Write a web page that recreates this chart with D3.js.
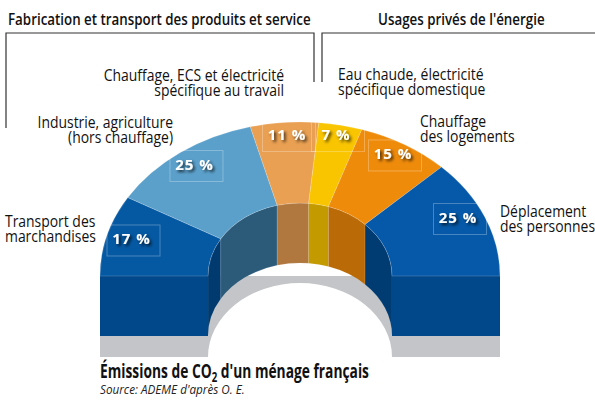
<!DOCTYPE html>
<html lang="fr">
<head>
<meta charset="UTF-8">
<title>Émissions de CO2 d'un ménage français</title>
<style>
  body { margin: 0; background: #fff; }
  svg { display: block; font-family: "Open Sans", "DejaVu Sans", sans-serif; }
  .lbl { font-size: 16px; fill: #111; }
  .grp { font-size: 16px; font-weight: 600; fill: #111; }
  .pct { font-size: 15px; font-weight: 700; fill: #fff; letter-spacing: 1px; }
  .bracket { fill: none; stroke: #333; stroke-width: 1.2; }
</style>
<script src="https://cdn.jsdelivr.net/npm/d3@7"></script>
</head>
<body>
<div id="chart"></div>
<script>
// ---- data ----
var categories = ["Transport des marchandises", "Industrie, agriculture (hors chauffage)",
  "Chauffage, ECS et électricité spécifique au travail", "Eau chaude, électricité spécifique domestique",
  "Chauffage des logements", "Déplacement des personnes"];
var shares = [17, 25, 11, 7, 15, 25];
var labelLines = [["Transport des", "marchandises"], ["Industrie, agriculture", "(hors chauffage)"],
  ["Chauffage, ECS et électricité", "spécifique au travail"], ["Eau chaude, électricité", "spécifique domestique"],
  ["Chauffage", "des logements"], ["Déplacement", "des personnes"]];
var groupNames = ["Fabrication et transport des produits et service", "Usages privés de l'énergie"];
var source = "Source: ADEME d'après O. E.";

// ---- style / layout ----
var topColors  = ["#0558a2", "#5ba0cb", "#e9a052", "#f9c500", "#ef8b0b", "#0559a8"];
var wallColors = ["#003a6f", "#2c5a79", "#b0783f", "#c39a00", "#ba6a07", "#003b72"];
var frontColor = "#00488a", shadowColor = "#c3c5c8";
// label box position as fraction of outer radius [kx, ky]
var boxK = [[0.863, 0.874], [0.862, 0.893], [0.70, 0.912], [0.937, 0.928], [0.909, 0.918], [0.866, 0.967]];
// text label anchors: x, first baseline, anchor
var labelPos = [[5, 227, "start"], [173, 128, "end"], [284, 81, "end"], [338, 80, "start"], [420, 127, "start"], [500, 217, "start"]];
var squeeze = 0.87, headSqueeze = 0.835;   // condensed look

var W = 595, H = 401;
var cx = 300, cy = 276, depth = 60, drop = 21;
var outer = { rx: 200, ry: 154 }, inner = { rx: 92, ry: 73 };

var svg = d3.select("#chart").append("svg").attr("width", W).attr("height", H);

var defs = svg.append("defs");
var f = defs.append("filter").attr("id", "ts").attr("x", "-30%").attr("y", "-40%").attr("width", "160%").attr("height", "180%");
f.append("feDropShadow").attr("dx", 2).attr("dy", 2).attr("stdDeviation", 1.6)
  .attr("flood-color", "#000").attr("flood-opacity", 0.75);

function pt(e, a, dy) {
  return [cx - e.rx * Math.cos(a), cy + (dy || 0) - e.ry * Math.sin(a)];
}
var pie = d3.pie().sort(null).startAngle(0).endAngle(Math.PI);
var arcs = pie(shares);

// shadow base
var s0 = pt(inner, 0, drop), s1 = pt(inner, Math.PI, drop);
svg.append("path")
  .attr("d", "M" + (cx - outer.rx) + "," + (cy + drop + depth) + "L" + (cx - outer.rx) + "," + cy +
    "L" + (cx + outer.rx) + "," + cy + "L" + (cx + outer.rx) + "," + (cy + drop + depth) +
    "L" + s1[0] + "," + (s1[1] + depth) + "A" + inner.rx + "," + (inner.ry + 1) + " 0 0 0 " + s0[0] + "," + (s0[1] + depth) + "Z")
  .attr("fill", shadowColor);

// inner wall
svg.append("g").selectAll("path").data(arcs).join("path")
  .attr("d", function (d) {
    var a = pt(inner, d.startAngle), b = pt(inner, d.endAngle),
        c = pt(inner, d.endAngle, depth), e = pt(inner, d.startAngle, depth);
    return "M" + a + "A" + inner.rx + "," + inner.ry + " 0 0 1 " + b + "L" + c +
      "A" + inner.rx + "," + inner.ry + " 0 0 0 " + e + "Z";
  })
  .attr("fill", function (d, i) { return wallColors[i]; })
  .attr("stroke", "rgba(255,255,255,0.18)").attr("stroke-width", 0.6);

// front faces
svg.append("rect").attr("x", cx - outer.rx).attr("y", cy).attr("width", outer.rx - inner.rx).attr("height", depth).attr("fill", frontColor);
svg.append("rect").attr("x", cx + inner.rx).attr("y", cy).attr("width", outer.rx - inner.rx).attr("height", depth).attr("fill", frontColor);

// top faces
svg.append("g").selectAll("path").data(arcs).join("path")
  .attr("d", function (d) {
    var a = pt(outer, d.startAngle), b = pt(outer, d.endAngle),
        c = pt(inner, d.endAngle), e = pt(inner, d.startAngle);
    return "M" + a + "A" + outer.rx + "," + outer.ry + " 0 0 1 " + b + "L" + c +
      "A" + inner.rx + "," + inner.ry + " 0 0 0 " + e + "Z";
  })
  .attr("fill", function (d, i) { return topColors[i]; })
  .attr("stroke", "rgba(255,255,255,0.25)").attr("stroke-width", 0.7);

// percentage boxes
var boxes = svg.append("g").selectAll("g").data(arcs).join("g")
  .attr("transform", function (d, i) {
    var m = (d.startAngle + d.endAngle) / 2;
    var x = cx - boxK[i][0] * outer.rx * Math.cos(m), y = cy - boxK[i][1] * outer.ry * Math.sin(m);
    return "translate(" + x + "," + y + ")";
  });
boxes.append("rect").attr("x", -26.5).attr("y", -15.5).attr("width", 53).attr("height", 31)
  .attr("fill", "none").attr("stroke", "rgba(255,255,255,0.28)").attr("stroke-width", 1);
boxes.append("text").attr("class", "pct").attr("x", -2).attr("y", 4).attr("text-anchor", "middle")
  .attr("filter", "url(#ts)")
  .text(function (d) { return d.data + " %"; });

// category labels (one text element, one tspan per line)
var labels = svg.append("g").selectAll("text").data(labelLines).join("text")
  .attr("class", "lbl")
  .attr("text-anchor", function (d, i) { return labelPos[i][2]; })
  .attr("transform", function (d, i) { return "translate(" + labelPos[i][0] + "," + labelPos[i][1] + ") scale(" + squeeze + ",1)"; });
labels.selectAll("tspan").data(function (d) { return d; }).join("tspan")
  .attr("x", 0)
  .attr("y", function (d, j) { return j * 15; })
  .text(function (d) { return d; });

// group headers and brackets
svg.append("text").attr("class", "grp").attr("transform", "translate(8,25) scale(" + headSqueeze + ",1)").text(groupNames[0]);
svg.append("text").attr("class", "grp").attr("transform", "translate(378,25) scale(" + headSqueeze + ",1)").text(groupNames[1]);
svg.append("path").attr("class", "bracket").attr("d", "M6,128V33H314V82");
svg.append("path").attr("class", "bracket").attr("d", "M322,82V33H600");

// title
var t = svg.append("text").attr("transform", "translate(100,378) scale(0.69,1)")
  .style("font-size", "20px").style("font-weight", 700).attr("fill", "#111");
t.append("tspan").text("Émissions de CO");
t.append("tspan").attr("dy", 4).style("font-size", "14px").text("2");
t.append("tspan").attr("dy", -4).text(" d'un ménage français");
svg.append("text").attr("transform", "translate(100,394) scale(0.9,1)")
  .style("font-size", "13px").style("font-style", "italic").attr("fill", "#222").text(source);
</script>
</body>
</html>
